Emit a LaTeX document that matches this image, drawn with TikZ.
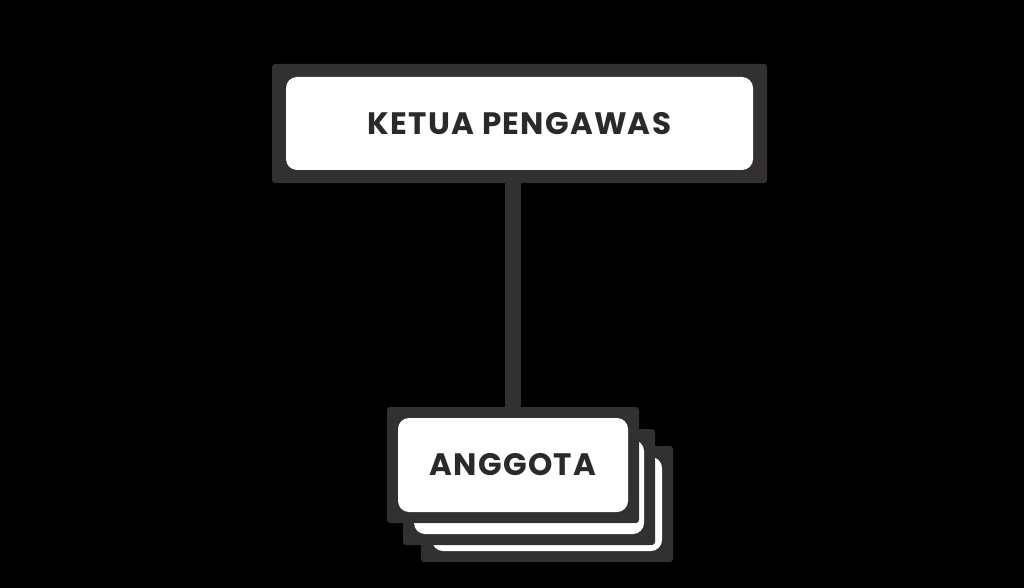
\documentclass[tikz,border=0pt]{standalone}
\usepackage{fontspec}
\setmainfont{Poppins}
\newfontfamily\labelfont[LetterSpace=4]{Poppins}
\definecolor{edge}{HTML}{333031}
\definecolor{ink}{HTML}{2B2929}
\pgfdeclarelayer{bg}
\pgfdeclarelayer{behind}
\pgfsetlayers{bg,behind,main}
\begin{document}
\begin{tikzpicture}[x=1pt,y=-1pt,
  outerbox/.style={fill=edge, rounded corners=3pt, inner sep=0pt, draw=none},
  innerbox/.style={fill=white, rounded corners=11pt, inner sep=0pt, draw=none,
    font=\labelfont\bfseries\fontsize{31}{34}\selectfont, text=ink},
  link/.style={draw=edge, line width=16pt}]
\begin{pgfonlayer}{bg}
\fill[black] (0,0) rectangle (1024,588);
\end{pgfonlayer}
\useasboundingbox (0,0) rectangle (1024,588);
% top box
\node[outerbox, minimum width=495pt, minimum height=119pt] (topo) at (519.5,123.5) {};
\node[innerbox, minimum width=467pt, minimum height=93pt] (top) at (519.5,123.5) {KETUA PENGAWAS};
% stacked cards (back to front)
\node[outerbox, minimum width=252pt, minimum height=116pt] (c3o) at (547,504) {};
\node[innerbox, minimum width=230pt, minimum height=94pt] (c3) at (547,504) {};
\node[outerbox, minimum width=252pt, minimum height=116pt] (c2o) at (529,487) {};
\node[innerbox, minimum width=230pt, minimum height=94pt] (c2) at (529,487) {};
\node[outerbox, minimum width=252pt, minimum height=116pt] (c1o) at (513,465) {};
\node[innerbox, minimum width=230pt, minimum height=94pt] (c1) at (513,465) {ANGGOTA};
% connector
\begin{pgfonlayer}{behind}
\draw[link] (topo.south -| c1o.north) -- (c1o.north);
\end{pgfonlayer}
\end{tikzpicture}
\end{document}
